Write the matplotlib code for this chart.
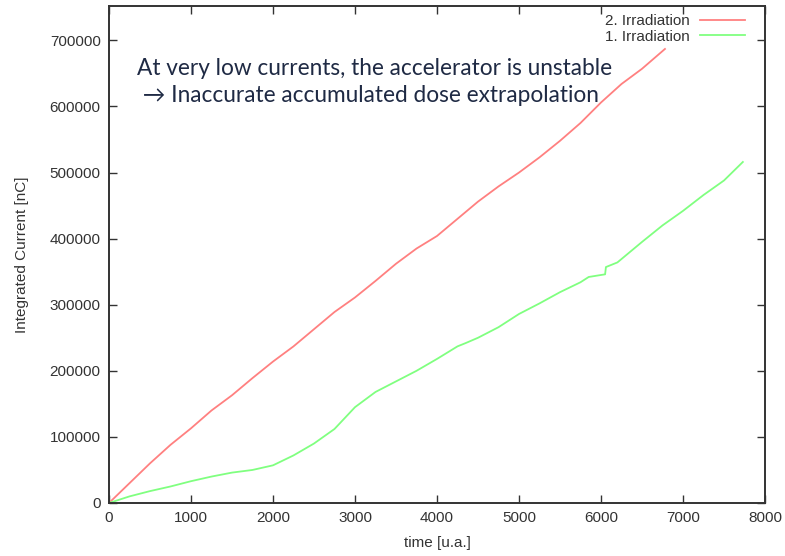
import matplotlib
matplotlib.use("Agg")
import matplotlib.pyplot as plt

# ---- data ----
t_red = [0, 250, 500, 750, 1000, 1250, 1500, 1750, 2000, 2250, 2500, 2750, 3000,
         3250, 3500, 3750, 4000, 4250, 4500, 4750, 5000, 5250, 5500, 5750, 6000,
         6250, 6500, 6780]
red = [0, 30000, 60000, 88000, 113000, 140000, 163000, 189000, 214000, 237000,
       263000, 289000, 311000, 336000, 362000, 385000, 404000, 430000, 456000,
       479000, 500000, 523000, 548000, 575000, 606000, 634000, 657000, 687000]

t_green = [0, 250, 500, 750, 1000, 1250, 1500, 1750, 2000, 2050, 2250, 2500, 2750,
           3000, 3250, 3500, 3750, 4000, 4250, 4350, 4500, 4750, 5000, 5250, 5500,
           5750, 5850, 6050, 6060, 6200, 6500, 6750, 7000, 7250, 7500, 7730]
green = [0, 10000, 18000, 25000, 33000, 40000, 46000, 50000, 57000, 60000, 72000,
         90000, 112000, 145000, 168000, 184000, 200000, 218000, 237000, 242000,
         250000, 266000, 286000, 302000, 319000, 334000, 342000, 346000, 357000,
         364000, 395000, 420000, 442000, 466000, 488000, 516000]

x_ticks = [0, 1000, 2000, 3000, 4000, 5000, 6000, 7000, 8000]
y_ticks = [0, 100000, 200000, 300000, 400000, 500000, 600000, 700000]

labels = ["2. Irradiation", "1. Irradiation"]
note_lines = ["At very low currents, the accelerator is unstable",
              " \u2192 Inaccurate accumulated dose extrapolation"]

fig = plt.figure(figsize=(7.85, 5.56), dpi=100)
ax = fig.add_axes([109/785, 53/556, (765-109)/785, (503-6)/556])

ax.plot(t_red, red, color="#ff8080", lw=1.3, label=labels[0])
ax.plot(t_green, green, color="#80ff80", lw=1.3, label=labels[1])

ax.set_xlim(0, 8000)
ax.set_ylim(0, 752000)
ax.set_xticks(x_ticks)
ax.set_yticks(y_ticks)
ax.set_xticklabels([str(v) for v in x_ticks])
ax.set_yticklabels([str(v) for v in y_ticks])

for s in ax.spines.values():
    s.set_color("#333333")
    s.set_linewidth(1.4)
ax.tick_params(direction="in", length=6, width=1.0, color="#333333",
               top=True, right=True, labelsize=11, labelcolor="#333333", pad=6)
for lab in ax.get_xticklabels() + ax.get_yticklabels():
    lab.set_family("Liberation Sans")

ax.set_xlabel("time [u.a.]", fontsize=11, color="#333333", family="Liberation Sans", labelpad=8)
ax.set_ylabel("Integrated Current [nC]", fontsize=11, color="#333333", family="Liberation Sans", labelpad=15)

leg = ax.legend(loc="upper right", frameon=False, markerfirst=False,
                prop={"family": "Liberation Sans", "size": 11},
                handlelength=2.9, handletextpad=0.7, labelspacing=0.08,
                borderaxespad=0.0, borderpad=0.55,
                bbox_to_anchor=(1 - 12/656, 1.0))
for txt in leg.get_texts():
    txt.set_color("#333333")

ax.text(0.0427, 0.874, note_lines[0], transform=ax.transAxes, fontsize=16.3,
        color="#1F2A44", family=["Lato", "DejaVu Sans"], va="center", ha="left")
ax.text(0.0427, 0.820, note_lines[1], transform=ax.transAxes, fontsize=16.3,
        color="#1F2A44", family=["Lato", "DejaVu Sans"], va="center", ha="left")

fig.savefig("out.png", dpi=100)
